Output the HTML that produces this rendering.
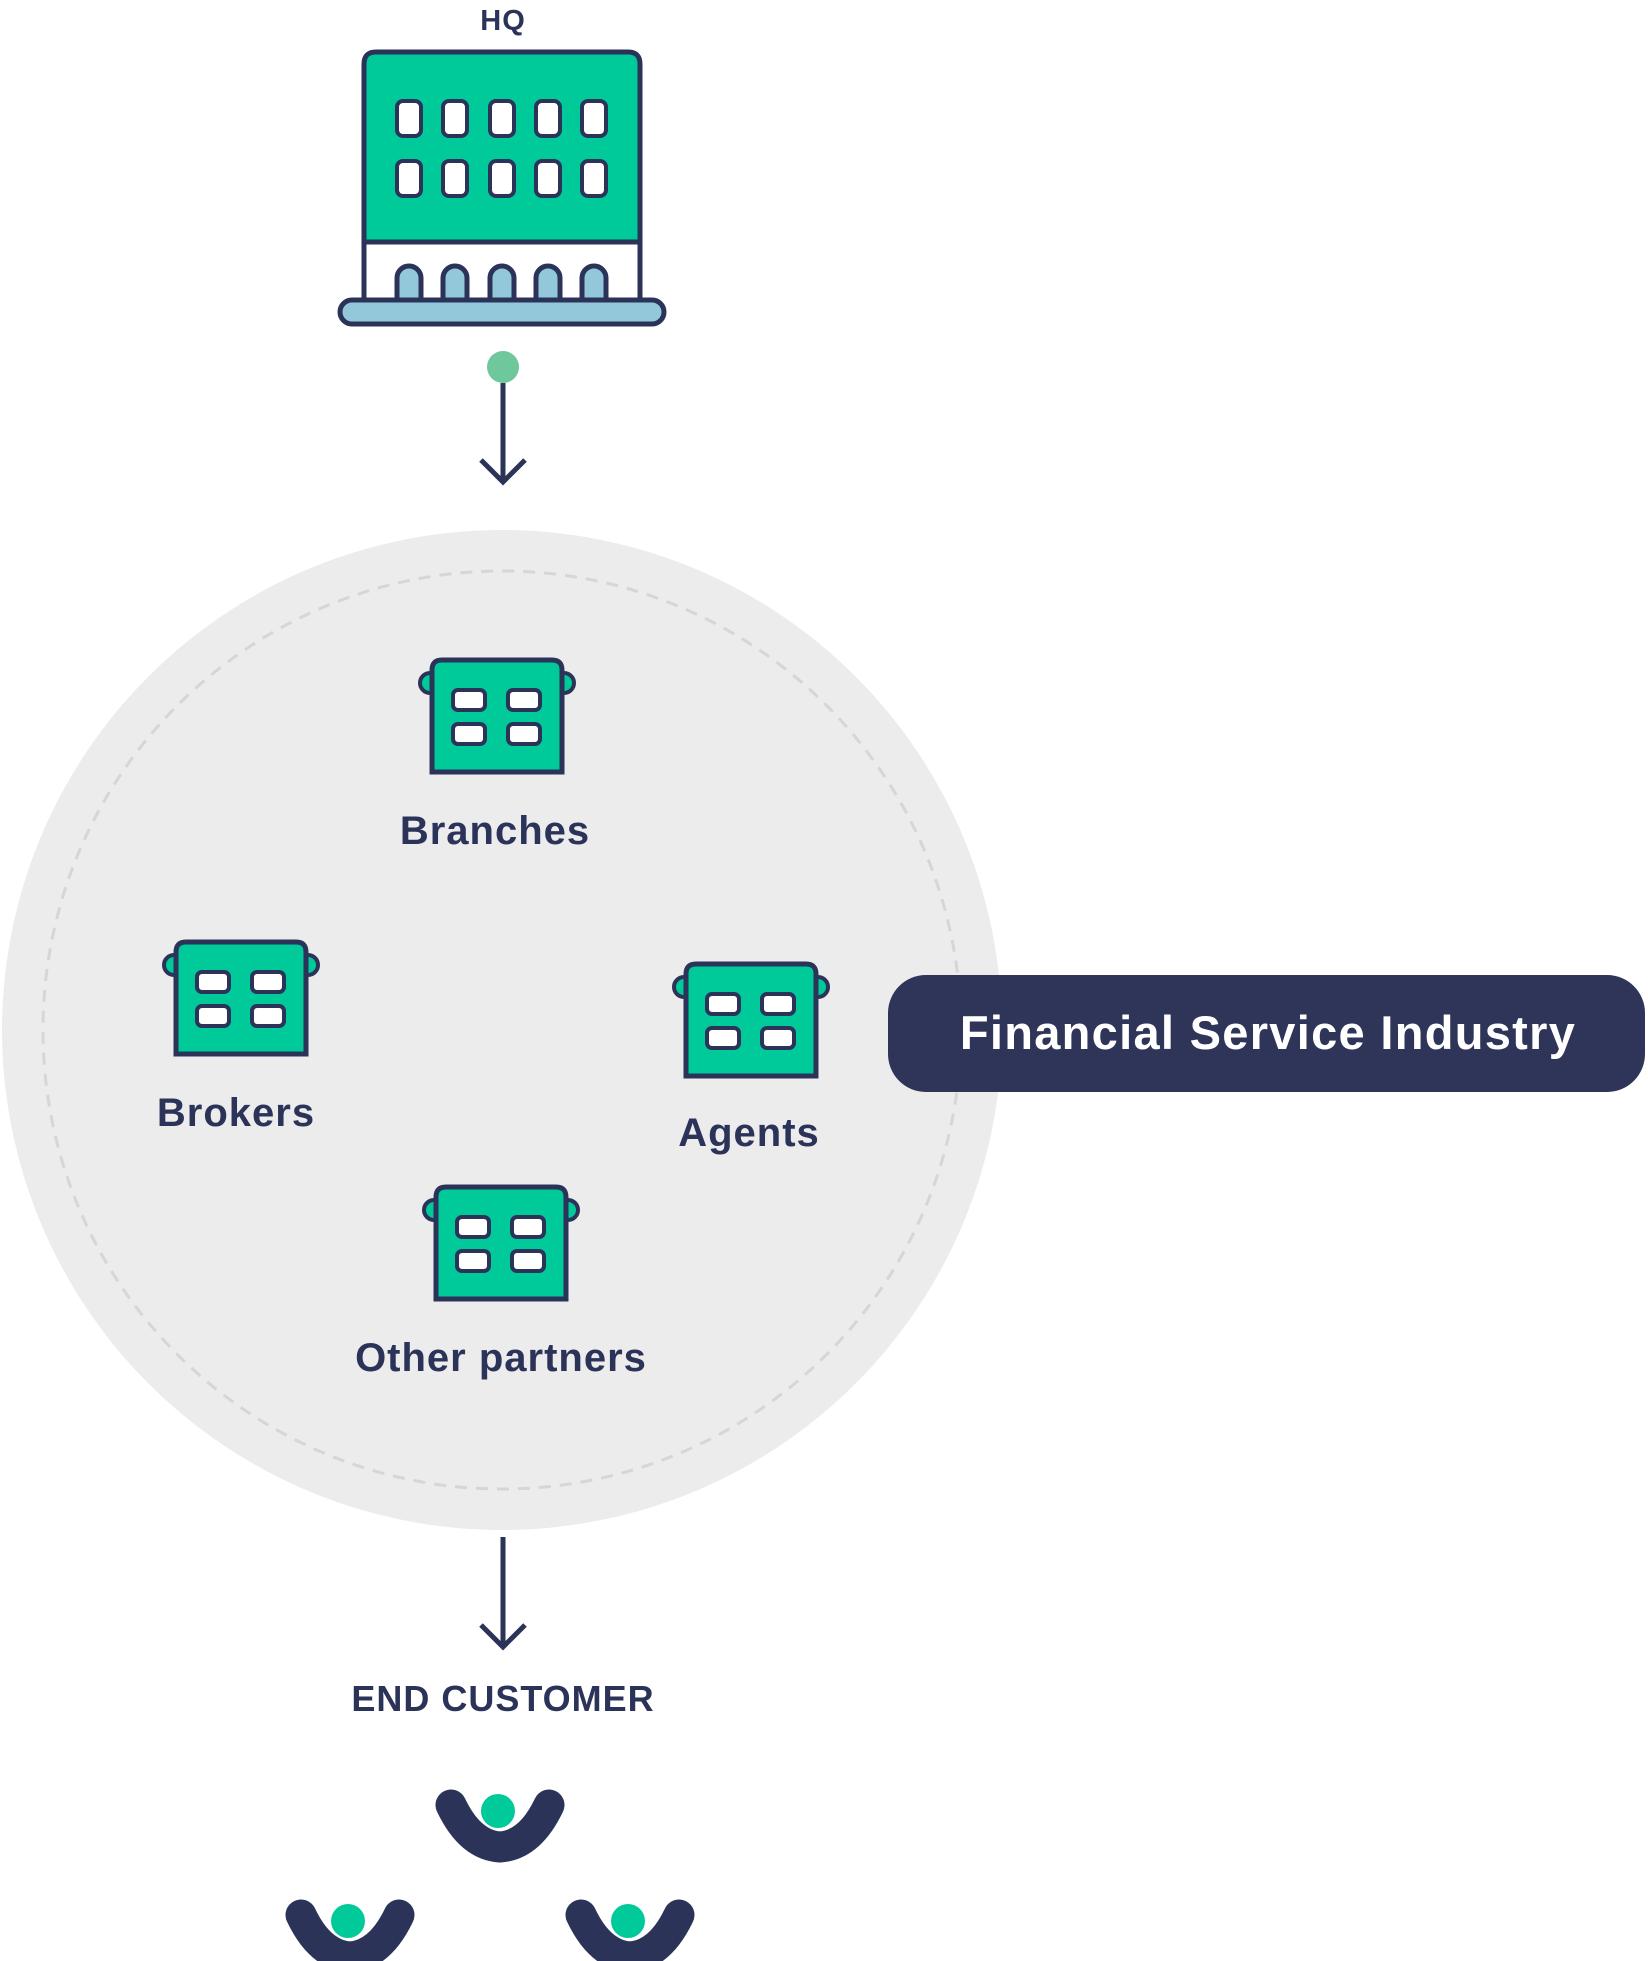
<!DOCTYPE html>
<html><head><meta charset="utf-8"><style>
html,body{margin:0;padding:0;background:#fff;}
svg{display:block;}
text{font-family:"Liberation Sans",sans-serif;font-weight:bold;fill:#2b3359;letter-spacing:1px;}
</style></head><body>
<svg width="1648" height="1961" viewBox="0 0 1648 1961" xmlns="http://www.w3.org/2000/svg">
<defs>
<g id="b">
  <circle cx="5" cy="25" r="10" fill="#00c99a" stroke="#2b3359" stroke-width="4"/>
  <circle cx="139" cy="25" r="10" fill="#00c99a" stroke="#2b3359" stroke-width="4"/>
  <path d="M7,114 L7,12 Q7,2 17,2 L127,2 Q137,2 137,12 L137,114 Z" fill="#00c99a" stroke="#2b3359" stroke-width="5"/>
  <rect x="28" y="32" width="32" height="20" rx="5" fill="#fff" stroke="#2b3359" stroke-width="4"/>
  <rect x="83" y="32" width="32" height="20" rx="5" fill="#fff" stroke="#2b3359" stroke-width="4"/>
  <rect x="28" y="66" width="32" height="20" rx="5" fill="#fff" stroke="#2b3359" stroke-width="4"/>
  <rect x="83" y="66" width="32" height="20" rx="5" fill="#fff" stroke="#2b3359" stroke-width="4"/>
</g>
<g id="c">
  <path d="M-49,-2 Q-30,38 0,40 Q30,38 49,-2" fill="none" stroke="#2b3359" stroke-width="31" stroke-linecap="round" stroke-linejoin="round"/>
  <circle cx="-2" cy="4" r="17" fill="#00c99a"/>
</g>
</defs>

<text x="503" y="30" font-size="29" text-anchor="middle">HQ</text>
<path d="M364,242 L364,64 Q364,52 376,52 L628,52 Q640,52 640,64 L640,242 Z" fill="#00c99a" stroke="#2b3359" stroke-width="5"/>
<rect x="364" y="242" width="276" height="58" fill="#fff" stroke="#2b3359" stroke-width="5"/>
<g fill="#fff" stroke="#2b3359" stroke-width="4">
  <rect x="397" y="101" width="24" height="35" rx="6"/><rect x="443" y="101" width="24" height="35" rx="6"/><rect x="490" y="101" width="24" height="35" rx="6"/><rect x="536" y="101" width="24" height="35" rx="6"/><rect x="582" y="101" width="24" height="35" rx="6"/>
  <rect x="397" y="161" width="24" height="35" rx="6"/><rect x="443" y="161" width="24" height="35" rx="6"/><rect x="490" y="161" width="24" height="35" rx="6"/><rect x="536" y="161" width="24" height="35" rx="6"/><rect x="582" y="161" width="24" height="35" rx="6"/>
</g>
<g fill="#92c8da" stroke="#2b3359" stroke-width="5">
  <path d="M397,300 L397,278 A12,12 0 0 1 421,278 L421,300"/>
  <path d="M443,300 L443,278 A12,12 0 0 1 467,278 L467,300"/>
  <path d="M490,300 L490,278 A12,12 0 0 1 514,278 L514,300"/>
  <path d="M536,300 L536,278 A12,12 0 0 1 560,278 L560,300"/>
  <path d="M582,300 L582,278 A12,12 0 0 1 606,278 L606,300"/>
</g>
<rect x="340" y="300" width="324" height="24" rx="12" fill="#92c8da" stroke="#2b3359" stroke-width="5"/>

<circle cx="503" cy="367" r="16" fill="#6fc79c"/>
<line x1="503" y1="383" x2="503" y2="482" stroke="#2b3359" stroke-width="5"/>
<polyline points="481,460 503,482 525,460" fill="none" stroke="#2b3359" stroke-width="5"/>

<circle cx="502" cy="1030" r="500" fill="#ececec"/>
<circle cx="502" cy="1030" r="459" fill="none" stroke="#d6d6d6" stroke-width="3" stroke-dasharray="12 9"/>

<use href="#b" x="425" y="658"/>
<use href="#b" x="169" y="940"/>
<use href="#b" x="679" y="962"/>
<use href="#b" x="429" y="1185"/>

<text x="495" y="844" font-size="40" text-anchor="middle">Branches</text>
<text x="236" y="1126" font-size="40" text-anchor="middle">Brokers</text>
<text x="749" y="1146" font-size="40" text-anchor="middle">Agents</text>
<text x="501" y="1371" font-size="40" text-anchor="middle">Other partners</text>

<rect x="888" y="975" width="757" height="117" rx="38" fill="#2f3459"/>
<text x="1268" y="1049" font-size="47" text-anchor="middle" style="fill:#fff;letter-spacing:1.3px">Financial Service Industry</text>

<line x1="503" y1="1537" x2="503" y2="1647" stroke="#2b3359" stroke-width="5"/>
<polyline points="481,1625 503,1647 525,1625" fill="none" stroke="#2b3359" stroke-width="5"/>

<text x="503" y="1711" font-size="36" text-anchor="middle">END CUSTOMER</text>

<use href="#c" x="500" y="1807"/>
<use href="#c" x="350" y="1917"/>
<use href="#c" x="630" y="1917"/>
</svg>
</body></html>
